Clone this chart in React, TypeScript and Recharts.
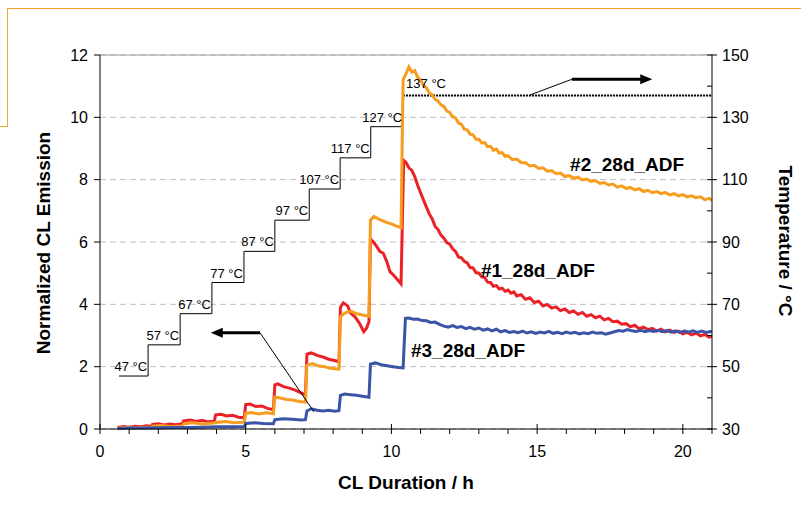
import React from 'react';
import { ComposedChart, Line, XAxis, YAxis, CartesianGrid, ReferenceLine, ReferenceDot } from 'recharts';

const FONT = '"Liberation Sans", Arial, sans-serif';

const xTicks = [0,1,2,3,4,5,6,7,8,9,10,11,12,13,14,15,16,17,18,19,20,21];
const yTicks = [0,2,4,6,8,10,12];
const tempTicks = [30,40,50,60,70,80,90,100,110,120,130,140,150];

// temperature program: [start hour, °C]
const tempSteps: [number, number][] = [
  [0.65,47],[1.65,57],[2.75,67],[3.84,77],[4.94,87],[6.0,97],[7.18,107],[8.24,117],[9.29,127],[10.4,137]
];
const tempHoldEnd = 21;

// [hour, normalized CL emission]
const sample1: [number, number][] = [
  [0.6,0.05],[0.8,0.08],[1.0,0.06],[1.2,0.09],[1.4,0.07],[1.6,0.1],[1.75,0.08],
  [1.8,0.15],[2.0,0.17],[2.2,0.13],[2.4,0.16],[2.6,0.14],[2.82,0.17],
  [2.87,0.26],[3.1,0.29],[3.3,0.24],[3.5,0.28],[3.7,0.23],[3.92,0.25],
  [3.97,0.45],[4.15,0.47],[4.35,0.42],[4.55,0.44],[4.75,0.38],[4.95,0.36],
  [5.0,0.78],[5.15,0.8],[5.35,0.72],[5.55,0.74],[5.75,0.66],[5.95,0.62],
  [6.0,1.42],[6.1,1.45],[6.3,1.36],[6.5,1.31],[6.7,1.25],[6.9,1.16],[7.05,1.1],
  [7.1,2.4],[7.25,2.44],[7.45,2.36],[7.65,2.31],[7.85,2.24],[8.05,2.2],[8.2,2.16],
  [8.25,3.9],[8.35,4.05],[8.5,3.95],[8.6,3.72],[8.75,3.6],[8.9,3.4],[9.05,3.12],[9.15,3.24],[9.23,3.45],
  [9.28,6.1],[9.38,6.0],[9.5,5.85],[9.6,5.7],[9.72,5.64],[9.84,5.37],[9.95,5.05],[10.07,4.94],[10.18,4.82],[10.33,4.66],
  [10.42,8.62],[10.5,8.55],[10.6,8.38],[10.7,8.3],[10.8,8.1],[10.9,7.82],[11.0,7.58],
  [11.1,7.35],[11.2,7.12],[11.3,6.9],[11.4,6.74],[11.5,6.5],[11.6,6.4],[11.7,6.22],[11.8,6.12],[11.9,5.98],
  [12.0,5.93],[12.1,5.78],[12.2,5.7],[12.3,5.52],[12.4,5.49],[12.5,5.38],[12.6,5.33],[12.7,5.18],[12.8,5.17],
  [12.9,5.02],[13.0,5.0],[13.1,4.88],[13.2,4.86],[13.3,4.71],[13.4,4.7],[13.5,4.58],[13.6,4.6],[13.7,4.49],
  [13.8,4.52],[13.9,4.42],[14.0,4.46],[14.1,4.36],[14.2,4.4],[14.3,4.27],[14.45,4.31],[14.6,4.16],[14.75,4.21],
  [14.9,4.06],[15.05,4.1],[15.2,3.95],[15.35,4.0],[15.5,3.88],[15.65,3.92],[15.8,3.8],[15.95,3.85],[16.1,3.74],
  [16.25,3.79],[16.4,3.68],[16.55,3.74],[16.7,3.62],[16.85,3.67],[17.0,3.57],[17.15,3.62],[17.3,3.5],[17.45,3.55],
  [17.6,3.44],[17.75,3.46],[17.9,3.36],[18.05,3.38],[18.2,3.28],[18.35,3.33],[18.5,3.22],[18.65,3.27],[18.8,3.19],
  [18.95,3.23],[19.1,3.14],[19.25,3.2],[19.4,3.12],[19.55,3.17],[19.7,3.1],[19.85,3.14],[20.0,3.05],[20.15,3.1],
  [20.3,3.02],[20.45,3.08],[20.6,2.99],[20.75,3.03],[20.9,2.95],[21.0,2.97]
];

const sample2: [number, number][] = [
  [0.6,0.03],[0.9,0.05],[1.2,0.04],[1.5,0.06],[1.75,0.05],
  [1.8,0.09],[2.1,0.11],[2.4,0.08],[2.82,0.1],
  [2.87,0.17],[3.2,0.2],[3.5,0.16],[3.92,0.19],
  [3.97,0.21],[4.3,0.24],[4.6,0.2],[4.95,0.22],
  [5.0,0.5],[5.2,0.53],[5.45,0.48],[5.7,0.52],[5.95,0.49],
  [6.0,1.02],[6.15,1.0],[6.4,0.95],[6.6,0.93],[6.85,0.88],[7.05,0.86],
  [7.1,2.05],[7.3,2.1],[7.5,2.02],[7.7,2.0],[7.9,1.95],[8.2,1.92],
  [8.25,3.6],[8.4,3.72],[8.6,3.78],[8.8,3.7],[9.0,3.66],[9.23,3.62],
  [9.28,6.7],[9.4,6.82],[9.55,6.74],[9.7,6.68],[9.85,6.62],[10.0,6.58],[10.15,6.52],[10.33,6.46],
  [10.4,11.2],[10.5,11.4],[10.6,11.62],[10.7,11.45],[10.8,11.5],[10.9,11.28],[11.0,11.2],[11.1,11.02],
  [11.2,10.95],[11.3,10.78],[11.4,10.72],[11.5,10.58],[11.6,10.52],[11.7,10.4],[11.8,10.35],[11.9,10.2],
  [12.0,10.16],[12.1,10.02],[12.2,9.98],[12.3,9.82],[12.4,9.78],[12.5,9.62],[12.6,9.6],[12.7,9.46],
  [12.8,9.44],[12.9,9.3],[13.0,9.3],[13.1,9.18],[13.2,9.19],[13.3,9.06],[13.4,9.07],[13.5,8.94],
  [13.6,8.98],[13.7,8.85],[13.8,8.87],[13.9,8.75],[14.0,8.77],[14.15,8.64],[14.3,8.66],[14.45,8.55],
  [14.6,8.54],[14.75,8.44],[14.9,8.46],[15.05,8.36],[15.2,8.38],[15.35,8.27],[15.5,8.29],[15.65,8.19],
  [15.8,8.21],[15.95,8.1],[16.1,8.13],[16.25,8.05],[16.4,8.08],[16.55,7.99],[16.7,8.02],[16.85,7.94],
  [17.0,7.97],[17.15,7.88],[17.3,7.91],[17.45,7.83],[17.6,7.86],[17.75,7.76],[17.9,7.8],[18.05,7.72],
  [18.2,7.75],[18.35,7.67],[18.5,7.71],[18.65,7.62],[18.8,7.66],[18.95,7.58],[19.1,7.62],[19.25,7.55],
  [19.4,7.59],[19.55,7.51],[19.7,7.55],[19.85,7.48],[20.0,7.52],[20.15,7.45],[20.3,7.48],[20.45,7.42],
  [20.6,7.45],[20.75,7.36],[20.9,7.4],[21.0,7.33]
];

const sample3: [number, number][] = [
  [0.6,0.02],[1.0,0.03],[1.5,0.03],[2.0,0.04],[2.5,0.05],[3.0,0.05],[3.5,0.06],[4.0,0.07],[4.5,0.07],[4.95,0.08],
  [5.0,0.18],[5.3,0.2],[5.6,0.18],[5.95,0.17],
  [6.0,0.3],[6.3,0.33],[6.6,0.31],[6.9,0.29],[7.05,0.3],
  [7.1,0.58],[7.25,0.65],[7.45,0.6],[7.65,0.58],[7.85,0.6],[8.05,0.57],[8.2,0.59],
  [8.25,1.08],[8.4,1.12],[8.6,1.1],[8.8,1.08],[9.0,1.05],[9.23,1.02],
  [9.28,2.08],[9.45,2.12],[9.65,2.06],[9.85,2.03],[10.05,2.0],[10.25,1.97],[10.4,1.96],
  [10.48,3.55],[10.6,3.56],[10.75,3.52],[10.9,3.53],[11.05,3.48],[11.2,3.47],[11.35,3.42],[11.5,3.43],
  [11.65,3.36],[11.8,3.3],[11.95,3.27],[12.1,3.32],[12.25,3.26],[12.4,3.29],[12.55,3.22],[12.7,3.26],
  [12.85,3.2],[13.0,3.24],[13.15,3.17],[13.3,3.21],[13.45,3.15],[13.6,3.2],[13.75,3.12],[13.9,3.16],
  [14.05,3.1],[14.2,3.13],[14.35,3.09],[14.5,3.14],[14.65,3.08],[14.8,3.12],[14.95,3.07],[15.1,3.11],
  [15.25,3.08],[15.4,3.13],[15.55,3.07],[15.7,3.1],[15.85,3.06],[16.0,3.11],[16.15,3.07],[16.3,3.1],
  [16.45,3.05],[16.6,3.09],[16.75,3.06],[16.9,3.11],[17.05,3.07],[17.2,3.09],[17.35,3.04],[17.5,3.08],
  [17.65,3.12],[17.8,3.16],[17.95,3.14],[18.1,3.19],[18.25,3.15],[18.4,3.13],[18.55,3.17],[18.7,3.12],
  [18.85,3.16],[19.0,3.13],[19.15,3.17],[19.3,3.12],[19.45,3.16],[19.6,3.11],[19.75,3.15],[19.9,3.1],
  [20.05,3.14],[20.2,3.11],[20.35,3.15],[20.5,3.1],[20.65,3.14],[20.8,3.1],[20.95,3.13],[21.0,3.12]
];

const seriesLabels = [
  { name: '#2_28d_ADF', h: 16.13, v: 8.28 },
  { name: '#1_28d_ADF', h: 13.07, v: 4.88 },
  { name: '#3_28d_ADF', h: 10.67, v: 2.31 },
];

const toPts = (arr: [number, number][]) => arr.map(([h, v]) => ({ h, v }));

const stepData = tempSteps.map(([h, t]) => ({ h, t }));
const holdData = [
  { h: tempSteps[tempSteps.length - 1][0], t: tempSteps[tempSteps.length - 1][1] },
  { h: tempHoldEnd, t: tempSteps[tempSteps.length - 1][1] },
];

const XTick = (props: any) => {
  const { x, y, payload } = props;
  const major = payload.value % 5 === 0;
  return (
    <g>
      <line x1={x} x2={x} y1={major ? y - 5 : y} y2={y + 5} stroke="#000" />
      {major && (
        <text x={x} y={y + 28} textAnchor="middle" fontSize={16} fontFamily={FONT} fill="#000">{payload.value}</text>
      )}
    </g>
  );
};

const LeftTick = (props: any) => {
  const { x, y, payload } = props;
  return (
    <g>
      <line x1={x - 6} x2={x} y1={y} y2={y} stroke="#000" />
      <text x={x - 12} y={y} dy="0.36em" textAnchor="end" fontSize={16} fontFamily={FONT} fill="#000">{payload.value}</text>
    </g>
  );
};

const RightTick = (props: any) => {
  const { x, y, payload } = props;
  const major = (payload.value - 30) % 20 === 0;
  return (
    <g>
      <line x1={x - 5} x2={major ? x + 5 : x} y1={y} y2={y} stroke="#000" />
      {major && (
        <text x={x + 10} y={y} dy="0.36em" textAnchor="start" fontSize={16} fontFamily={FONT} fill="#000">{payload.value}</text>
      )}
    </g>
  );
};

const textShape = (text: string, anchor: 'start' | 'end', size: number, bold: boolean, dx = 0, dy = 0) =>
  (p: any) => (
    <text x={p.cx + dx} y={p.cy + dy} textAnchor={anchor} fontSize={size} fontWeight={bold ? 'bold' : 'normal'}
      fontFamily={FONT} fill="#000">{text}</text>
  );

const headLeft = (p: any) => (
  <polygon points={`${p.cx},${p.cy} ${p.cx + 12},${p.cy - 5} ${p.cx + 12},${p.cy + 5}`} fill="#000" />
);
const headRight = (p: any) => (
  <polygon points={`${p.cx},${p.cy} ${p.cx - 12},${p.cy - 5} ${p.cx - 12},${p.cy + 5}`} fill="#000" />
);

const orange = '#f7a030';

export default function App() {
  const last = tempSteps.length - 1;
  return (
    <div style={{ position: 'absolute', left: 0, top: 0, width: 801, height: 510, background: '#fff', fontFamily: FONT }}>
      <div style={{ position: 'absolute', left: 7, top: 8, width: 794, borderTop: `1.5px solid ${orange}` }} />
      <div style={{ position: 'absolute', left: 7, top: 8, height: 119, borderLeft: `1.5px solid ${orange}` }} />
      <div style={{ position: 'absolute', left: 0, top: 126, width: 8, borderTop: `1.5px solid ${orange}` }} />

      <ComposedChart width={801} height={510} margin={{ top: 55, right: 29, bottom: 51, left: 40 }}>
        <CartesianGrid yAxisId="left" vertical={false} stroke="#bdbdbd" strokeDasharray="6 4" />
        <XAxis dataKey="h" type="number" domain={[0, 21]} ticks={xTicks} interval={0} height={30}
          tickSize={0} tickMargin={0} tickLine={false} tick={XTick} axisLine={{ stroke: '#000' }} allowDataOverflow />
        <YAxis yAxisId="left" type="number" domain={[0, 12]} ticks={yTicks} interval={0} width={60}
          tickSize={0} tickMargin={0} tickLine={false} tick={LeftTick} axisLine={{ stroke: '#000' }} />
        <YAxis yAxisId="right" orientation="right" type="number" domain={[30, 150]} ticks={tempTicks} interval={0} width={60}
          tickSize={0} tickMargin={0} tickLine={false} tick={RightTick} axisLine={{ stroke: '#000' }} />
        <ReferenceLine yAxisId="left" y={12} stroke="#9a9a9a" strokeWidth={1.2} />

        <Line yAxisId="right" data={stepData} dataKey="t" type="stepAfter" stroke="#000" strokeWidth={1}
          dot={false} activeDot={false} isAnimationActive={false} />
        <Line yAxisId="right" data={holdData} dataKey="t" type="linear" stroke="#000" strokeWidth={2}
          strokeDasharray="2 1" dot={false} activeDot={false} isAnimationActive={false} />

        <Line yAxisId="left" data={toPts(sample1)} dataKey="v" type="linear" stroke="#ea2228" strokeWidth={3}
          dot={false} activeDot={false} isAnimationActive={false} />
        <Line yAxisId="left" data={toPts(sample2)} dataKey="v" type="linear" stroke="#f89c1e" strokeWidth={3}
          dot={false} activeDot={false} isAnimationActive={false} />
        <Line yAxisId="left" data={toPts(sample3)} dataKey="v" type="linear" stroke="#3a55a6" strokeWidth={3}
          dot={false} activeDot={false} isAnimationActive={false} />

        {tempSteps.map(([h, t], i) => (
          <ReferenceDot key={'tl' + i} yAxisId="right"
            x={i < last ? tempSteps[i + 1][0] : h} y={t} r={1}
            shape={i < last ? textShape(`${t} °C`, 'end', 13, false, -1, -5) : textShape(`${t} °C`, 'start', 13, false, 3, -8)} />
        ))}

        {seriesLabels.map((s) => (
          <ReferenceDot key={s.name} yAxisId="left" x={s.h} y={s.v} r={1} shape={textShape(s.name, 'start', 19, true)} />
        ))}

        <ReferenceLine yAxisId="left" segment={[{ x: 4.15, y: 3.09 }, { x: 5.49, y: 3.09 }]} stroke="#000" strokeWidth={3} />
        <ReferenceLine yAxisId="left" segment={[{ x: 5.49, y: 3.09 }, { x: 7.34, y: 0.55 }]} stroke="#000" strokeWidth={1} />
        <ReferenceDot yAxisId="left" x={3.8} y={3.09} r={1} shape={headLeft} />

        <ReferenceLine yAxisId="left" segment={[{ x: 14.76, y: 10.72 }, { x: 16.19, y: 11.22 }]} stroke="#000" strokeWidth={1} />
        <ReferenceLine yAxisId="left" segment={[{ x: 16.19, y: 11.22 }, { x: 18.6, y: 11.22 }]} stroke="#000" strokeWidth={3} />
        <ReferenceDot yAxisId="left" x={18.95} y={11.22} r={1} shape={headRight} />
      </ComposedChart>

      <div style={{ position: 'absolute', left: 44, top: 243, transform: 'translate(-50%, -50%) rotate(-90deg)',
        whiteSpace: 'nowrap', fontSize: 19, fontWeight: 'bold', color: '#000' }}>Normalized CL Emission</div>
      <div style={{ position: 'absolute', left: 785, top: 241, transform: 'translate(-50%, -50%) rotate(90deg)',
        whiteSpace: 'nowrap', fontSize: 19, fontWeight: 'bold', color: '#000' }}>Temperature / °C</div>
      <div style={{ position: 'absolute', left: 406, top: 483, transform: 'translate(-50%, -50%)',
        whiteSpace: 'nowrap', fontSize: 19, fontWeight: 'bold', color: '#000' }}>CL Duration / h</div>
    </div>
  );
}
